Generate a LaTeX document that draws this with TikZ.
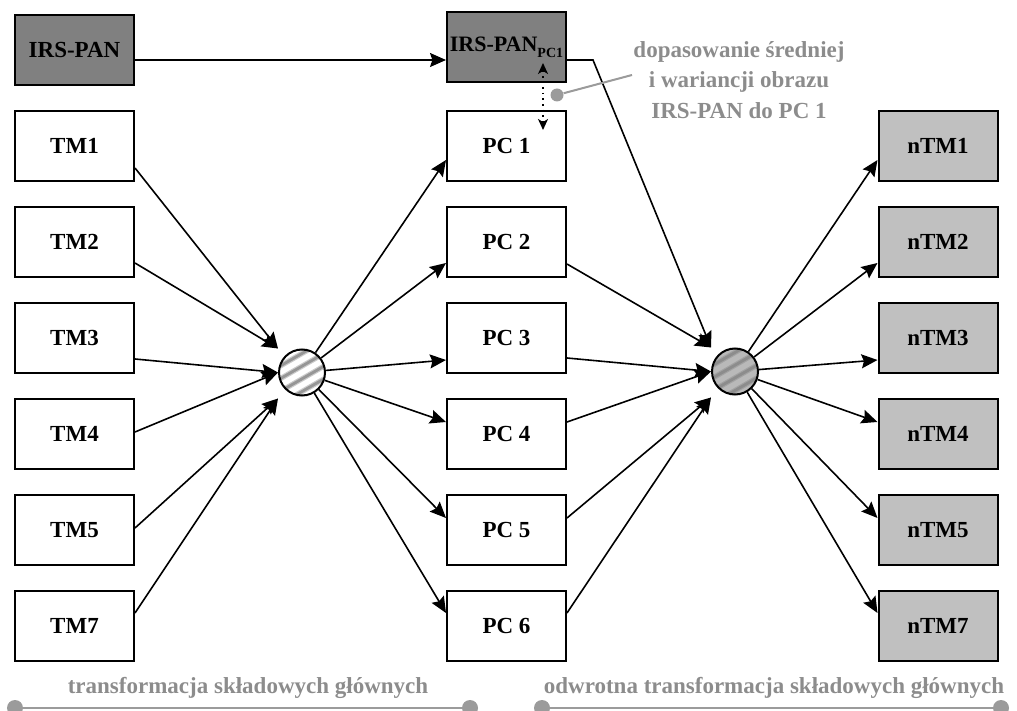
\documentclass[tikz,border=0pt]{standalone}
\usepackage{fontspec}
\setmainfont{Liberation Serif}
\usetikzlibrary{arrows.meta,calc}
\definecolor{darkbox}{RGB}{128,128,128}
\definecolor{lightbox}{RGB}{192,192,192}
\definecolor{txtgray}{RGB}{140,140,140}
\definecolor{lngray}{RGB}{155,155,155}
\definecolor{stripeL}{RGB}{150,150,150}
\definecolor{circR}{RGB}{185,185,185}
\definecolor{stripeR}{RGB}{140,140,140}
\begin{document}
\begin{tikzpicture}[x=0.5pt,y=-0.5pt,
  box/.style={draw, line width=1pt, minimum width=59.5pt, minimum height=35pt, inner sep=0pt,
    font=\fontsize{11.5}{13.8}\selectfont\bfseries},
  arr/.style={line width=0.8pt, -{Stealth[length=8pt,width=7pt,inset=1.2pt]}},
  dotarr/.style={line width=0.8pt, dotted, {Stealth[length=5.5pt,width=5pt,inset=1.5pt]}-{Stealth[length=5.5pt,width=5pt,inset=1.5pt]}},
  hub/.style 2 args={circle, draw, line width=1pt, minimum size=23pt, inner sep=0pt, fill=#1,
    path picture={
      \begin{scope}[shift={(path picture bounding box.center)}]
        \foreach \o in {-16.5,-5.5,5.5,16.5} {
          \draw[line width=2.6pt, color=#2!50!#1] ({\o*0.5-34.64},{\o*0.866+20}) -- ({\o*0.5+34.64},{\o*0.866-20});
          \draw[line width=1.4pt, color=#2] ({\o*0.5-34.64},{\o*0.866+20}) -- ({\o*0.5+34.64},{\o*0.866-20});
        }
      \end{scope}}},
  lbl/.style={text=txtgray, inner sep=0pt, font=\fontsize{11.5}{15.25}\selectfont\bfseries},
  gline/.style={draw=lngray, line width=1pt},
  gdot/.style={circle, fill=lngray, inner sep=0pt, minimum size=#1},
]
\useasboundingbox (0,0) rectangle (1017,711);

% top row
\node[box, fill=darkbox] (irs) at (74.5,50) {IRS-PAN};
\node[box, fill=darkbox] (irs1) at (506.5,47.5)
  {{\fontsize{11}{13}\selectfont IRS-PAN}{\fontsize{7}{8}\selectfont\raisebox{-3pt}{PC1}}};

% left column
\node[box] (tm1) at (74.5,146) {TM1};
\node[box] (tm2) at (74.5,242) {TM2};
\node[box] (tm3) at (74.5,338) {TM3};
\node[box] (tm4) at (74.5,434) {TM4};
\node[box] (tm5) at (74.5,530) {TM5};
\node[box] (tm7) at (74.5,626) {TM7};

% middle column
\node[box] (pc1) at (506.5,146) {PC 1};
\node[box] (pc2) at (506.5,242) {PC 2};
\node[box] (pc3) at (506.5,338) {PC 3};
\node[box] (pc4) at (506.5,434) {PC 4};
\node[box] (pc5) at (506.5,530) {PC 5};
\node[box] (pc6) at (506.5,626) {PC 6};

% right column
\node[box, fill=lightbox] (ntm1) at (938,146) {nTM1};
\node[box, fill=lightbox] (ntm2) at (938,242) {nTM2};
\node[box, fill=lightbox] (ntm3) at (938,338) {nTM3};
\node[box, fill=lightbox] (ntm4) at (938,434) {nTM4};
\node[box, fill=lightbox] (ntm5) at (938,530) {nTM5};
\node[box, fill=lightbox] (ntm7) at (938,626) {nTM7};

% hubs
\node[hub={white}{stripeL}] (c1) at (302,372.5) {};
\node[hub={circR}{stripeR}] (c2) at (735,371.5) {};

% hub inputs
\coordinate (a1) at ($(c1.center)+(-24,-24)$);
\coordinate (a2) at ($(c1.center)+(-24,0)$);
\coordinate (a3) at ($(c1.center)+(-24,26)$);
\coordinate (b1) at ($(c2.center)+(-24,-24)$);
\coordinate (b2) at ($(c2.center)+(-24,0)$);
\coordinate (b3) at ($(c2.center)+(-24,26)$);

% TM -> hub 1
\draw[arr] ($(tm1.east)+(0,22)$) -- (a1);
\draw[arr] ($(tm2.east)+(0,21)$) -- (a1);
\draw[arr] ($(tm3.east)+(0,21)$) -- (a2);
\draw[arr] ($(tm4.east)+(0,-2)$) -- (a2);
\draw[arr] ($(tm5.east)+(0,-2)$) -- (a3);
\draw[arr] ($(tm7.east)+(0,-13)$) -- (a3);

% hub 1 -> PC
\draw[arr] (c1) -- ($(pc1.west)+(0,14)$);
\draw[arr] (c1) -- ($(pc2.west)+(0,21)$);
\draw[arr] (c1) -- ($(pc3.west)+(0,22)$);
\draw[arr] (c1) -- ($(pc4.west)+(0,-12)$);
\draw[arr] (c1) -- ($(pc5.west)+(0,-12)$);
\draw[arr] (c1) -- ($(pc6.west)+(0,-13)$);

% IRS-PAN path
\coordinate (irsout) at ($(irs.east)+(0,10)$);
\coordinate (irs1in) at (irs1.west |- irsout);
\coordinate (irs1out) at (irs1.east |- irsout);
\coordinate (bend) at ($(irs1out)+(26,0)$);
\draw[arr] (irsout) -- (irs1in);
\draw[arr] (irs1out) -- (bend) -- (b1);

% PC -> hub 2
\draw[arr] ($(pc2.east)+(0,22)$) -- (b1);
\draw[arr] ($(pc3.east)+(0,20)$) -- (b2);
\draw[arr] ($(pc4.east)+(0,-12)$) -- (b2);
\draw[arr] ($(pc5.east)+(0,-12)$) -- (b3);
\draw[arr] ($(pc6.east)+(0,-13)$) -- (b3);

% hub 2 -> nTM
\draw[arr] (c2) -- ($(ntm1.west)+(0,14)$);
\draw[arr] (c2) -- ($(ntm2.west)+(0,21)$);
\draw[arr] (c2) -- ($(ntm3.west)+(0,22)$);
\draw[arr] (c2) -- ($(ntm4.west)+(0,-12)$);
\draw[arr] (c2) -- ($(ntm5.west)+(0,-12)$);
\draw[arr] (c2) -- ($(ntm7.west)+(0,-13)$);

% dotted double arrow
\coordinate (dtop) at ($(irs1.center)+(36.5,15.5)$);
\coordinate (dbot) at ($(pc1.center)+(36.5,-16)$);
\draw[dotarr] (dtop) -- (dbot);

% callout
\node[lbl, align=center] (note) at (739,80) {dopasowanie średniej\\i wariancji obrazu\\IRS-PAN do PC 1};
\coordinate (cend) at (632,75);
\node[gdot=6.5pt] (cdot) at (557,95) {};
\draw[gline] (cdot) -- (cend);

% bottom labels
\node[lbl, anchor=base] (t1) at (248,693) {transformacja składowych głównych};
\node[gdot=8pt] (d1) at (15,708) {};
\node[gdot=8pt] (d2) at (470,708) {};
\draw[gline] (d1) -- (d2);
\node[lbl, anchor=base] (t2) at (774,693) {odwrotna transformacja składowych głównych};
\node[gdot=8pt] (d3) at (542,708) {};
\node[gdot=8pt] (d4) at (1001,708) {};
\draw[gline] (d3) -- (d4);
\end{tikzpicture}
\end{document}
